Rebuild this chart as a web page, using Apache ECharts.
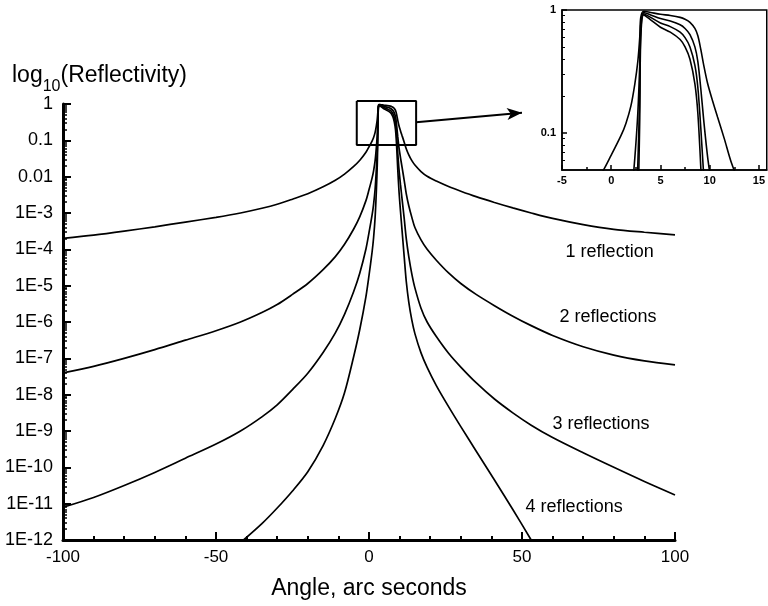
<!DOCTYPE html>
<html>
<head>
<meta charset="utf-8">
<script src="https://cdn.jsdelivr.net/npm/echarts@6/dist/echarts.min.js"></script>
<style>
  html, body { margin: 0; padding: 0; background: #fff; }
  #chart { width: 768px; height: 606px; }
</style>
</head>
<body>
<div id="chart"></div>
<script>
// Angle grid (arc seconds) shared by the 1-, 2- and 3-reflection curves
const ANGLE = [-100, -90, -80, -70, -60, -50, -42, -35, -30, -25, -20, -15, -11, -8, -5, -3, -1, 0, 1, 1.5,
  2, 2.4, 2.7, 2.9, 3.0, 3.3, 4, 5, 6, 7, 7.5, 8, 8.5, 8.8, 9.1, 9.4, 9.8, 10.3, 10.8, 11.5,
  12.2, 13, 14, 15, 17, 19, 22, 26, 30, 35, 41, 47, 53, 60, 70, 80, 90, 100];

// log10 reflectivity, one reflection
const R1 = [-3.70, -3.61, -3.50, -3.38, -3.25, -3.12, -3.00, -2.87, -2.76, -2.62, -2.47, -2.28, -2.10, -1.93, -1.72, -1.55, -1.33, -1.18, -1.02, -0.92,
  -0.78, -0.60, -0.42, -0.22, -0.06, -0.01, -0.02, -0.035, -0.045, -0.06, -0.075, -0.10, -0.15, -0.21, -0.32, -0.45, -0.60, -0.74, -0.87, -1.05,
  -1.24, -1.40, -1.56, -1.68, -1.86, -1.99, -2.12, -2.27, -2.40, -2.55, -2.71, -2.86, -3.00, -3.15, -3.32, -3.45, -3.53, -3.60];

// two reflections
const R2 = [-7.40, -7.22, -7.00, -6.76, -6.50, -6.24, -6.00, -5.74, -5.52, -5.24, -4.94, -4.56, -4.20, -3.86, -3.44, -3.10, -2.66, -2.36, -2.04, -1.84,
  -1.56, -1.20, -0.84, -0.44, -0.12, -0.02, -0.04, -0.07, -0.09, -0.12, -0.15, -0.20, -0.30, -0.42, -0.64, -0.90, -1.20, -1.48, -1.74, -2.10,
  -2.48, -2.80, -3.12, -3.40, -3.74, -4.00, -4.30, -4.65, -4.94, -5.24, -5.55, -5.84, -6.10, -6.37, -6.68, -6.91, -7.07, -7.18];

// three reflections
const R3 = [-11.10, -10.83, -10.50, -10.14, -9.75, -9.36, -9.00, -8.61, -8.28, -7.86, -7.41, -6.84, -6.30, -5.79, -5.16, -4.65, -3.99, -3.54, -3.06, -2.76,
  -2.34, -1.80, -1.26, -0.66, -0.18, -0.03, -0.06, -0.105, -0.135, -0.18, -0.225, -0.30, -0.45, -0.63, -0.96, -1.35, -1.80, -2.22, -2.61, -3.15,
  -3.72, -4.20, -4.68, -5.06, -5.62, -6.00, -6.40, -6.86, -7.24, -7.67, -8.12, -8.50, -8.84, -9.18, -9.60, -10.00, -10.39, -10.76];

// four reflections (only the part above 1E-12)
const ANGLE4 = [-41, -35, -30, -25, -20, -15, -11, -8, -5, -3, -1, 0, 1, 1.5, 2, 2.4, 2.7, 2.9, 3.0, 3.3,
  4, 5, 6, 7, 7.5, 8, 8.5, 8.8, 9.1, 9.4, 9.8, 10.3, 10.8, 11.5, 12.2, 13, 14, 15, 17, 19,
  22, 26, 30, 35, 41, 47, 53];
const R4 = [-12.00, -11.55, -11.12, -10.65, -10.12, -9.40, -8.65, -7.95, -6.95, -6.20, -5.30, -4.72, -4.08, -3.68, -3.12, -2.40, -1.68, -0.88, -0.24, -0.04,
  -0.08, -0.14, -0.18, -0.24, -0.30, -0.40, -0.60, -0.84, -1.28, -1.80, -2.40, -2.96, -3.48, -4.20, -4.90, -5.45, -5.95, -6.32, -6.85, -7.25,
  -7.75, -8.33, -8.88, -9.55, -10.35, -11.16, -12.00];

// y tick labels, from log10 = 0 down to -12
const Y_TICK_LABELS = ['1', '0.1', '0.01', '1E-3', '1E-4', '1E-5', '1E-6', '1E-7', '1E-8', '1E-9', '1E-10', '1E-11', '1E-12'];
const INSET_Y_LABELS = ['1', '0.1'];
const MINOR_MULTIPLES = [2, 3, 4, 5, 6, 7, 8, 9];

// curve annotations
const CURVE_NAMES = ['1 reflection', '2 reflections', '3 reflections', '4 reflections'];
const LABEL_X = [78.8, 78.3, 76.0, 67.2];
const LABEL_Y = [-4.10, -5.89, -8.81, -11.12];

// region around the peak shown enlarged in the inset
const BOX_X = [-4, 15.4];
const BOX_Y = [-1.13, 0.08];
const ARROW_FROM = [15.4, -0.5];
const ARROW_TO = [50, -0.24];

const FONT = "'Liberation Sans', Arial, Helvetica, sans-serif";
const pairs = (xs, ys) => xs.map((x, i) => [x, ys[i]]);

const mainMinor = [];
for (let d = -12; d < 0; d++) {
  MINOR_MULTIPLES.forEach(k => mainMinor.push(d + Math.log10(k)));
}
const insetMinor = [];
[-2, -1].forEach(d => MINOR_MULTIPLES.forEach(k => {
  const v = d + Math.log10(k);
  if (v > -1.301 && v < 0) insetMinor.push(v);
}));

const curves = [pairs(ANGLE, R1), pairs(ANGLE, R2), pairs(ANGLE, R3), pairs(ANGLE4, R4)];

const series = [];
curves.forEach((data, i) => {
  series.push({
    name: CURVE_NAMES[i], type: 'line', xAxisIndex: 0, yAxisIndex: 0, data,
    showSymbol: false, smooth: 0.3, lineStyle: { color: '#000', width: 1.7 }, silent: true
  });
  series.push({
    name: CURVE_NAMES[i] + ' (inset)', type: 'line', xAxisIndex: 1, yAxisIndex: 2, data,
    showSymbol: false, smooth: 0.3, lineStyle: { color: '#000', width: 1.6 }, silent: true
  });
});

// rectangle around the peak plus the arrow pointing to the inset
series.push({
  type: 'line', xAxisIndex: 0, yAxisIndex: 0, clip: false, silent: true, showSymbol: false,
  data: [[BOX_X[0], BOX_Y[1]], [BOX_X[1], BOX_Y[1]], [BOX_X[1], BOX_Y[0]], [BOX_X[0], BOX_Y[0]], [BOX_X[0], BOX_Y[1]]],
  lineStyle: { color: '#000', width: 2 },
  markLine: {
    silent: true, symbol: ['none', 'arrow'], symbolSize: [9, 15],
    lineStyle: { color: '#000', width: 2, type: 'solid' }, label: { show: false },
    data: [[{ coord: ARROW_FROM }, { coord: ARROW_TO }]]
  }
});

// curve labels
series.push({
  type: 'scatter', xAxisIndex: 0, yAxisIndex: 0, symbolSize: 1, silent: true,
  itemStyle: { opacity: 0 },
  data: LABEL_X.map((x, i) => ({ value: [x, LABEL_Y[i]], name: CURVE_NAMES[i] })),
  label: {
    show: true, position: [0, 0], align: 'center', verticalAlign: 'middle',
    formatter: p => p.name, color: '#000', opacity: 1, fontSize: 18, fontFamily: FONT
  }
});

const chart = echarts.init(document.getElementById('chart'), null, { renderer: 'canvas' });
chart.setOption({
  animation: false,
  backgroundColor: '#fff',
  title: {
    left: 7, top: 52,
    text: '{a|log}{s|10}{a|(Reflectivity)}',
    textStyle: {
      fontWeight: 'normal',
      rich: {
        a: { fontSize: 23, fontWeight: 'normal', fontFamily: FONT, color: '#000' },
        s: { fontSize: 16, fontWeight: 'normal', fontFamily: FONT, color: '#000', padding: [22, 0, 0, 0] }
      }
    }
  },
  grid: [
    { left: 63, top: 104, width: 612, height: 436 },
    { left: 562, top: 10, width: 208, height: 160, show: true, borderColor: '#000', borderWidth: 1.5, backgroundColor: '#fff' }
  ],
  xAxis: [
    {
      gridIndex: 0, type: 'value', position: 'bottom', min: -100, max: 100, interval: 50,
      axisLine: { onZero: false, lineStyle: { color: '#000', width: 3 } },
      axisTick: { inside: true, length: 8, lineStyle: { color: '#000', width: 2 } },
      minorTick: { show: true, splitNumber: 5, length: 4, lineStyle: { color: '#000', width: 2 } },
      splitLine: { show: false },
      axisLabel: { color: '#000', fontSize: 17, fontFamily: FONT, margin: 9 },
      name: 'Angle, arc seconds', nameLocation: 'middle', nameGap: 37,
      nameTextStyle: { color: '#000', fontSize: 23, fontFamily: FONT }
    },
    {
      gridIndex: 1, type: 'value', position: 'bottom', min: -5, max: 15.8,
      axisLine: { onZero: false, lineStyle: { color: '#000', width: 1.5 } },
      axisTick: { inside: true, length: 5, customValues: [-5, 0, 5, 10, 15], lineStyle: { color: '#000', width: 1.5 } },
      splitLine: { show: false },
      axisLabel: { customValues: [-5, 0, 5, 10, 15], color: '#000', fontSize: 11, fontWeight: 'bold', fontFamily: FONT, margin: 5 }
    },
    {
      gridIndex: 1, type: 'value', position: 'bottom', min: -5, max: 15.8,
      axisLine: { show: false, onZero: false },
      axisTick: { inside: true, length: 3, customValues: [-2.5, 2.5, 7.5, 12.5], lineStyle: { color: '#000', width: 1.5 } },
      splitLine: { show: false }, axisLabel: { show: false }
    }
  ],
  yAxis: [
    {
      gridIndex: 0, type: 'value', position: 'left', min: -12, max: 0, interval: 1,
      axisLine: { show: true, onZero: false, lineStyle: { color: '#000', width: 3 } },
      axisTick: { show: true, inside: true, length: 8, lineStyle: { color: '#000', width: 2 } },
      splitLine: { show: false },
      axisLabel: {
        color: '#000', fontSize: 18, fontFamily: FONT, margin: 10,
        formatter: v => Y_TICK_LABELS[Math.round(-v)]
      }
    },
    {
      gridIndex: 0, type: 'value', position: 'left', min: -12, max: 0,
      axisLine: { show: false, onZero: false },
      axisTick: { show: true, inside: true, length: 4, customValues: mainMinor, lineStyle: { color: '#000', width: 1.5 } },
      splitLine: { show: false }, axisLabel: { show: false }
    },
    {
      gridIndex: 1, type: 'value', position: 'left', min: -1.301, max: 0,
      axisLine: { show: true, onZero: false, lineStyle: { color: '#000', width: 1.5 } },
      axisTick: { show: true, inside: true, length: 5, customValues: [-1, 0], lineStyle: { color: '#000', width: 1.5 } },
      splitLine: { show: false },
      axisLabel: {
        customValues: [0, -1], color: '#000', fontSize: 11, fontWeight: 'bold', fontFamily: FONT, margin: 6,
        formatter: v => INSET_Y_LABELS[Math.round(-v)]
      }
    },
    {
      gridIndex: 1, type: 'value', position: 'left', min: -1.301, max: 0,
      axisLine: { show: false, onZero: false },
      axisTick: { show: true, inside: true, length: 3, customValues: insetMinor, lineStyle: { color: '#000', width: 1 } },
      splitLine: { show: false }, axisLabel: { show: false }
    }
  ],
  series
});
</script>
</body>
</html>
